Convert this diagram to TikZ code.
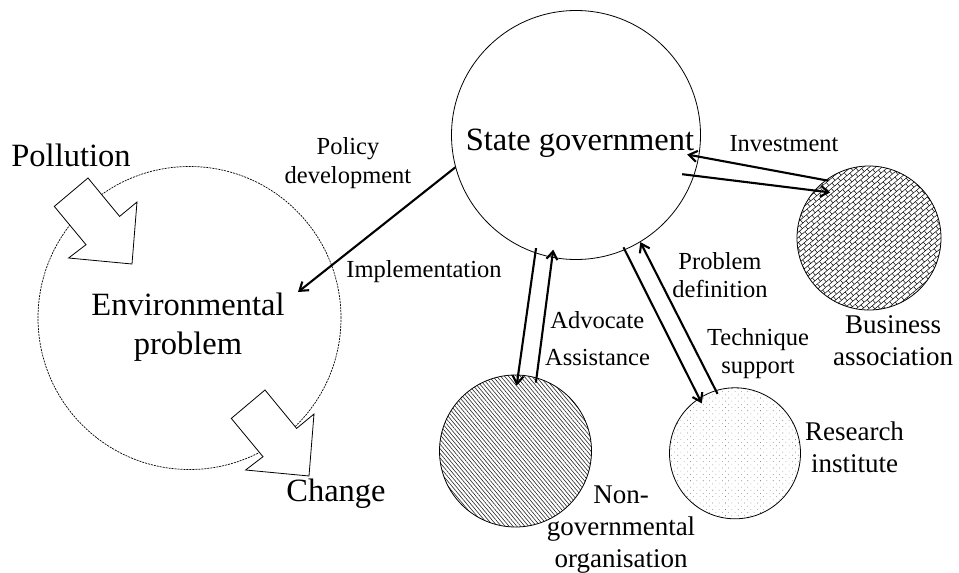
\documentclass[tikz,border=0pt]{standalone}
\usepackage{fontspec}
\setmainfont{Liberation Serif}
\usetikzlibrary{arrows.meta,patterns.meta}

\tikzdeclarepattern{
  name=slantbricks,
  type=uncolored,
  bounding box={(-0.5pt,-0.5pt) and (8.5pt,8.5pt)},
  tile size={(8pt,8pt)},
  tile transformation={rotate=40},
  code={
    \draw[line width=0.5pt] (0pt,0pt) -- (8pt,0pt) (0pt,4pt) -- (8pt,4pt)
      (0pt,0pt) -- (0pt,4pt) (4pt,4pt) -- (4pt,8pt);
  }
}

\newcommand{\bigarrow}[1]{\draw[line width=0.8pt,fill=white,shift={#1}] (-44,-86) -- (-77.7,-57.6) -- (-46,-19.3) -- (-63.4,-6) -- (0,0) -- (5,-62) -- (-12.4,-47.6) -- cycle;}

\begin{document}
\begin{tikzpicture}[x=1pt,y=-1pt,
  org/.style={circle,draw,line width=0.8pt,inner sep=0pt},
  big/.style={inner sep=0pt,align=center,font=\fontsize{32.5}{38.5}\selectfont},
  mid/.style={inner sep=0pt,align=center,font=\fontsize{27}{32}\selectfont},
  small/.style={inner sep=0pt,align=center,font=\fontsize{24.5}{28.5}\selectfont},
  link/.style={line width=2.1pt,-{Straight Barb[length=8pt,width=11pt]}}]
\useasboundingbox (0,0) rectangle (959,573);

\node[circle,draw,line width=0.7pt,dash pattern=on 2pt off 1pt,minimum size=303pt] (envcirc) at (189.5,318) {};
\bigarrow{(132,264)}
\bigarrow{(309,476)}
\node[big] (pollution) at (71,155) {Pollution};
\node[big] (envtext) at (188,327) {Environmental\\problem};
\node[big] (change) at (336,494) {Change};

\node[org,minimum size=249pt] (sg) at (576,135) {};
\node[big] (sgtext) at (580,143) {State government};
\node[org,minimum size=144pt,pattern=slantbricks] (ba) at (869,238) {};
\node[org,minimum size=152pt,pattern={Lines[angle=-50,distance=3pt,line width=0.6pt]},pattern color=black!85] (ngo) at (515.5,451) {};
\node[org,minimum size=131pt,pattern={Dots[distance=4.5pt,radius=0.4pt,angle=45]},pattern color=black!70] (ri) at (735,453.3) {};

\node[mid] (balab) at (893,340.5) {Business\\association};
\node[mid] (rilab) at (854.5,447.5) {Research\\institute};
\node[mid] (ngolab) at (621,530) {Non-\\governmental\\organisation};

\node[small] (policy) at (348,163) {Policy\\development};
\node[small] (impl) at (424,272) {Implementation};
\node[small] (invest) at (784,144) {Investment};
\node[small] (probdef) at (720,275) {Problem\\definition};
\node[small] (techsup) at (758,353.5) {Technique\\support};
\node[small] (advocate) at (597.3,320) {Advocate};
\node[small] (assist) at (597.5,358) {Assistance};

\coordinate (implend) at (298,292);
\draw[link] (sg.195) -- (implend);
\draw[link,shorten <=-5pt,shorten >=-11pt] (sg.-109) -- (ngo.88);
\draw[link,shorten <=-5pt,shorten >=-8pt] (ngo.74) -- (sg.-101);
\draw[link,shorten <=-3pt,shorten >=-6pt] (sg.-67) -- (ri.123);
\draw[link,shorten <=-4pt] (ri.107) -- (sg.-59);
\draw[link,shorten <=-3pt,shorten >=-12pt] (ba.127) -- (sg.-10);
\draw[link,shorten <=-12pt,shorten >=-16pt] (sg.-19) -- (ba.139);
\end{tikzpicture}
\end{document}
